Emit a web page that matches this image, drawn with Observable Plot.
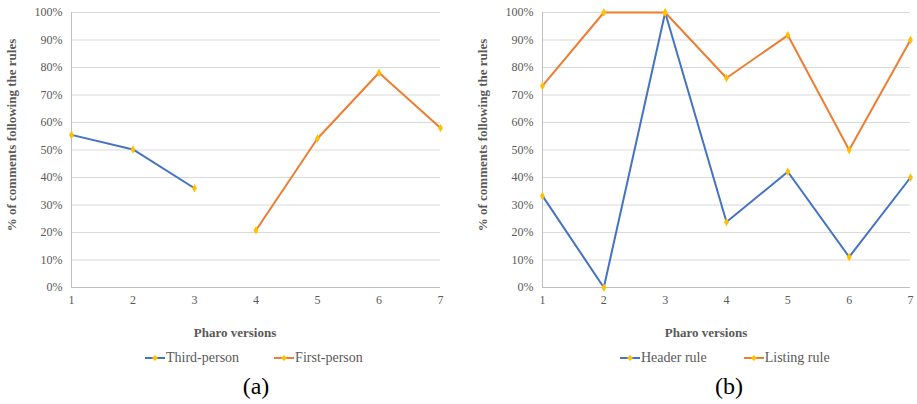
<!DOCTYPE html>
<html>
<head>
<meta charset="utf-8">
<script src="https://cdn.jsdelivr.net/npm/d3@7"></script>
<script src="https://cdn.jsdelivr.net/npm/@observablehq/plot@0.6"></script>
<style>
  html, body { margin: 0; padding: 0; background: #fff; }
  #wrap { position: relative; width: 917px; height: 404px; overflow: hidden;
          font-family: "Liberation Serif", "Times New Roman", serif; }
  .panel { position: absolute; top: 0; }
  .ytitle { position: absolute; font-weight: bold; font-size: 13px; color: #595959;
            white-space: nowrap; transform: translate(-50%, -50%) rotate(-90deg); }
  .xtitle { position: absolute; font-weight: bold; font-size: 13px; color: #595959;
            white-space: nowrap; transform: translate(-50%, -50%); }
  .legend { position: absolute; display: flex; align-items: center; font-size: 14px;
            color: #595959; white-space: nowrap; transform: translateY(-50%); }
  .item { display: flex; align-items: center; }
  .sub { position: absolute; font-size: 24px; color: #000; transform: translate(-50%, -50%); }
</style>
</head>
<body>
<div id="wrap"></div>
<script>
const versions = [1, 2, 3, 4, 5, 6, 7];
const thirdPerson = [0.555, 0.502, 0.361, null, null, null, null];
const firstPerson = [null, null, null, 0.208, 0.542, 0.781, 0.58];
const headerRule = [0.333, 0.0, 1.0, 0.238, 0.421, 0.111, 0.40];
const listingRule = [0.733, 1.0, 1.0, 0.762, 0.917, 0.50, 0.90];
const yTicks = [0, 0.1, 0.2, 0.3, 0.4, 0.5, 0.6, 0.7, 0.8, 0.9, 1.0];

const BLUE = "#4472C4", ORANGE = "#ED7D31", GOLD = "#FFC000";
const FONT = '"Liberation Serif", "Times New Roman", serif';

function rows(name, vals) {
  return versions.map((v, i) => ({version: v, value: vals[i], series: name}));
}

function panel(seriesA, seriesB, mLeft, mRight) {
  const data = [...seriesA, ...seriesB];
  return Plot.plot({
    width: 458,
    height: 312,
    marginTop: 12,
    marginBottom: 25,
    marginLeft: mLeft,
    marginRight: mRight,
    style: {fontFamily: FONT, fontSize: "12px", color: "#595959", background: "transparent", overflow: "visible"},
    x: {domain: [1, 7], ticks: versions, tickFormat: d3.format("d"), tickSize: 0, tickPadding: 8, label: null},
    y: {domain: [0, 1], ticks: yTicks, tickFormat: d3.format(".0%"), tickSize: 0, tickPadding: 9, label: null},
    marks: [
      Plot.ruleY(yTicks.slice(1), {stroke: "#d9d9d9", strokeWidth: 1}),
      Plot.ruleY([0], {stroke: "#bfbfbf", strokeWidth: 1}),
      Plot.ruleX([1], {stroke: "#bfbfbf", strokeWidth: 1}),
      Plot.line(seriesA, {x: "version", y: "value", stroke: BLUE, strokeWidth: 2}),
      Plot.line(seriesB, {x: "version", y: "value", stroke: ORANGE, strokeWidth: 2}),
      Plot.dot(data.filter(d => d.value != null), {x: "version", y: "value", symbol: "diamond", r: 2.6, fill: GOLD, stroke: "none"})
    ]
  });
}

function swatch(color) {
  const s = document.createElementNS("http://www.w3.org/2000/svg", "svg");
  s.setAttribute("width", 20); s.setAttribute("height", 10);
  s.innerHTML = `<line x1="0" y1="5" x2="20" y2="5" stroke="${color}" stroke-width="2"/>` +
    `<path d="M10,2 L13,5 L10,8 L7,5 Z" fill="${GOLD}"/>`;
  return s;
}

const wrap = document.getElementById("wrap");

function addPanel(left, chart, yTitleX, xTitleX, legendX, gap, names, subX, subText) {
  const p = document.createElement("div");
  p.className = "panel"; p.style.left = left + "px";
  p.appendChild(chart);
  wrap.appendChild(p);

  const yt = document.createElement("div");
  yt.className = "ytitle"; yt.textContent = "% of comments following the rules";
  yt.style.left = yTitleX + "px"; yt.style.top = "135px";
  wrap.appendChild(yt);

  const xt = document.createElement("div");
  xt.className = "xtitle"; xt.textContent = "Pharo versions";
  xt.style.left = xTitleX + "px"; xt.style.top = "333px";
  wrap.appendChild(xt);

  const lg = document.createElement("div");
  lg.className = "legend"; lg.style.left = legendX + "px"; lg.style.top = "358px";
  names.forEach(([n, c], i) => {
    const it = document.createElement("div");
    it.className = "item";
    if (i > 0) it.style.marginLeft = gap + "px";
    it.appendChild(swatch(c));
    const t = document.createElement("span");
    t.textContent = n; t.style.marginLeft = "1px";
    it.appendChild(t);
    lg.appendChild(it);
  });
  wrap.appendChild(lg);

  const sb = document.createElement("div");
  sb.className = "sub"; sb.textContent = subText;
  sb.style.left = subX + "px"; sb.style.top = "386px";
  wrap.appendChild(sb);
}

addPanel(0,
  panel(rows("Third-person", thirdPerson), rows("First-person", firstPerson), 71, 18),
  12, 235, 145, 35, [["Third-person", BLUE], ["First-person", ORANGE]], 256, "(a)");

addPanel(459,
  panel(rows("Header rule", headerRule), rows("Listing rule", listingRule), 83, 7),
  483, 706, 620, 37, [["Header rule", BLUE], ["Listing rule", ORANGE]], 729, "(b)");
</script>
</body>
</html>
